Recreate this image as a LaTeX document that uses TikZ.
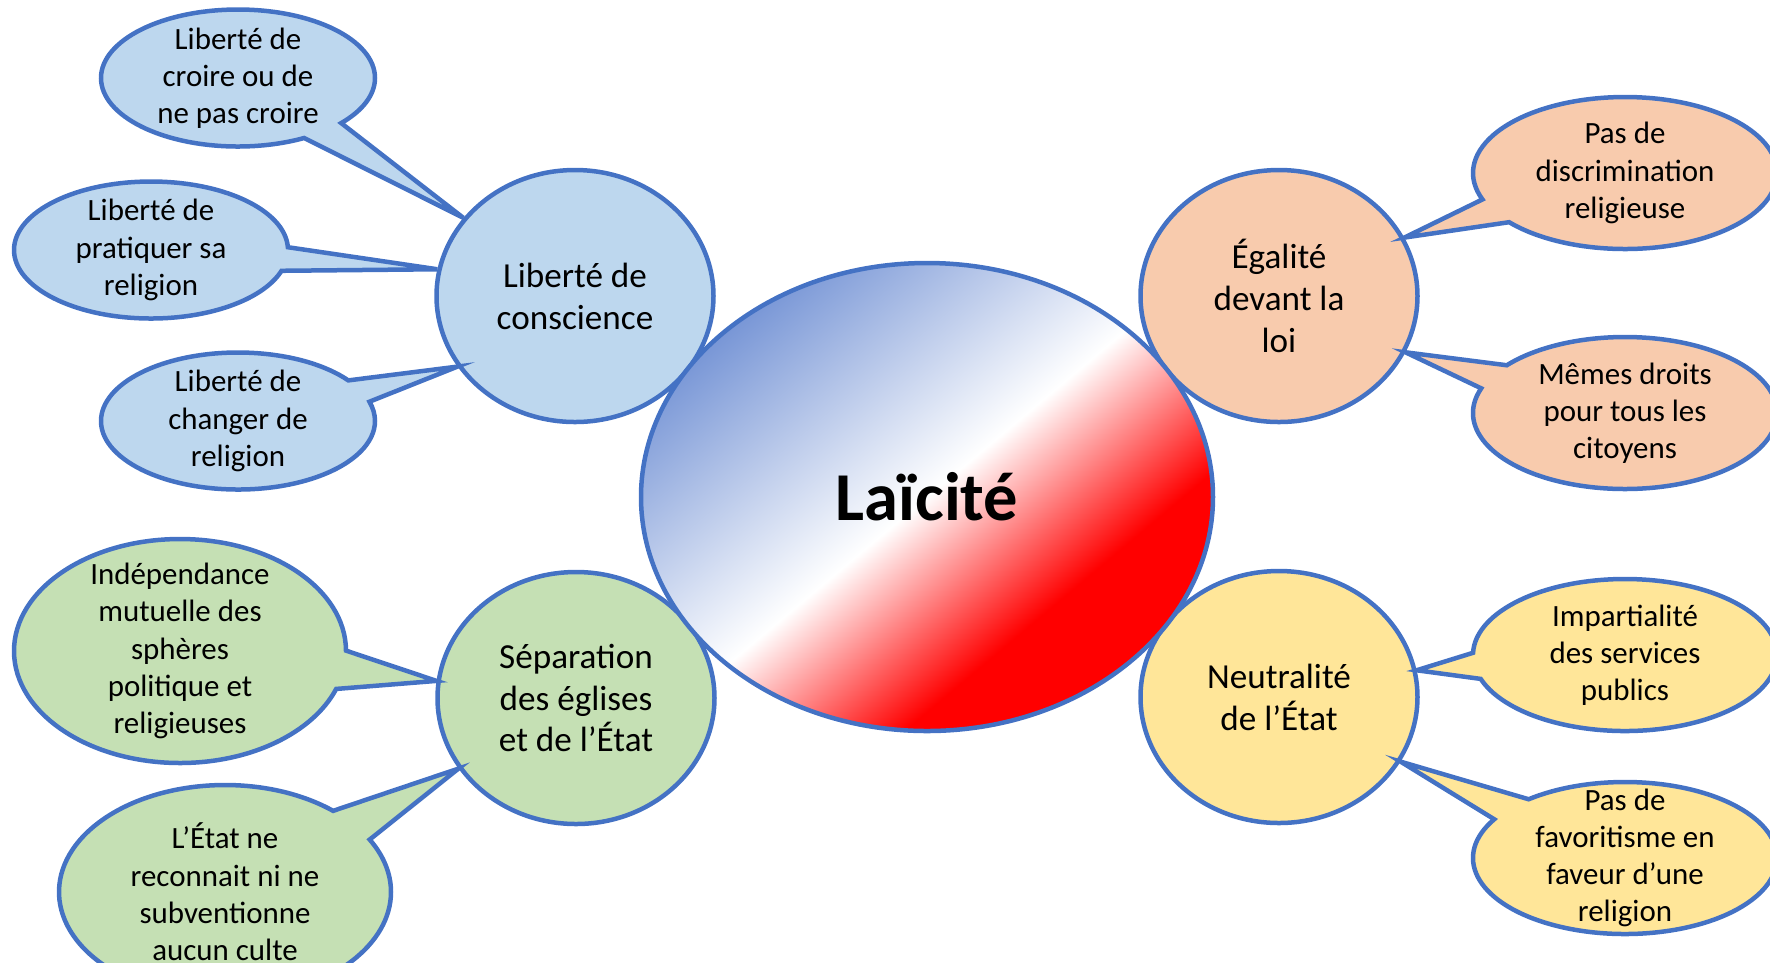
\documentclass[tikz,border=0pt]{standalone}
\usepackage{fontspec}
\setmainfont{Carlito}
\usepackage{tikz}
\usepackage{xcolor}
\usetikzlibrary{shapes.geometric}
\usetikzlibrary{shapes.callouts}
\definecolor{lineblue}{HTML}{4472C4}
\definecolor{fillblue}{HTML}{BDD7EE}
\definecolor{fillorange}{HTML}{F8CBAD}
\definecolor{fillgreen}{HTML}{C5E0B4}
\definecolor{fillyellow}{HTML}{FFE699}
\definecolor{laiblue}{HTML}{7896D6}
\pgfdeclarehorizontalshading{tricolore}{100bp}{color(0bp)=(laiblue); color(25bp)=(laiblue); color(50bp)=(white); color(66bp)=(red); color(100bp)=(red)}

\begin{document}
\begin{tikzpicture}[x=0.1mm, y=-0.1mm, line width=0.45mm,
every label/.style={align=center, inner sep=0pt, font=\fontsize{8.8}{10.6}\selectfont},
	main node/.style={draw=lineblue, ellipse, minimum width=27.7mm, minimum height=25.2mm, inner sep=0pt, align=center, font=\fontsize{10}{11.9}\selectfont},
	bubble/.style={draw=lineblue, ellipse callout, callout pointer arc=20, inner sep=0pt},
	small bubble/.style={bubble, minimum width=27.4mm, minimum height=13.7mm},
	wide bubble/.style={bubble, minimum width=30.4mm, minimum height=15.2mm},
	centre node/.style={draw=lineblue, ellipse, minimum width=57.2mm, minimum height=46.8mm, shading=tricolore, shading angle=-50, font=\fontsize{19.5}{23}\selectfont\bfseries}]

  \useasboundingbox (0,0) rectangle (1770,962);

  % les quatre principes
  \node[main node, fill=fillblue] (cons) at (575,296) {Liberté de\\conscience};
  \node[main node, fill=fillorange] (egal) at (1279,296) {Égalité\\devant la\\loi};
  \node[main node, fill=fillgreen] (sep) at (576,698) {Séparation\\des églises\\et de l’État};
  \node[main node, fill=fillyellow] (neut) at (1279,697) {Neutralité\\de l’État};

  % bulles
  \node[small bubble, fill=fillblue, callout absolute pointer={(cons.145)}, label=center:{Liberté de\\croire ou de\\ne pas croire}] (croire) at (238,78) {};
  \node[small bubble, fill=fillblue, callout absolute pointer={(cons.169)}, label=center:{Liberté de\\pratiquer sa\\religion}] (pratiquer) at (151,250) {};
  \node[small bubble, fill=fillblue, callout absolute pointer={(cons.211)}, label=center:{Liberté de\\changer de\\religion}] (changer) at (238,421) {};

  \node[bubble, fill=fillgreen, minimum width=33.2mm, minimum height=22.4mm, callout absolute pointer={(sep.173)}, label=center:{Indépendance\\mutuelle des\\sphères\\politique et\\religieuses}] (spheres) at (180,651) {};
  \node[bubble, fill=fillgreen, minimum width=33.2mm, minimum height=21.4mm, callout absolute pointer={(sep.211)}, label=center:{L’État ne\\reconnait ni ne\\subventionne\\aucun culte}] (culte) at (225,892) {};

  \node[wide bubble, fill=fillorange, callout absolute pointer={(egal.25)}, label=center:{Pas de\\discrimination\\religieuse}] (discri) at (1625,173) {};
  \node[wide bubble, fill=fillorange, callout absolute pointer={(egal.336)}, label=center:{Mêmes droits\\pour tous les\\citoyens}] (droits) at (1625,413) {};

  \node[wide bubble, fill=fillyellow, callout absolute pointer={(neut.11)}, label=center:{Impartialité\\des services\\publics}] (services) at (1625,655) {};
  \node[wide bubble, fill=fillyellow, callout absolute pointer={(neut.332)}, label=center:{Pas de\\favoritisme en\\faveur d’une\\religion}] (favori) at (1625,858) {};

  \node[centre node] (laicite) at (927,497) {Laïcité};
\end{tikzpicture}
\end{document}
